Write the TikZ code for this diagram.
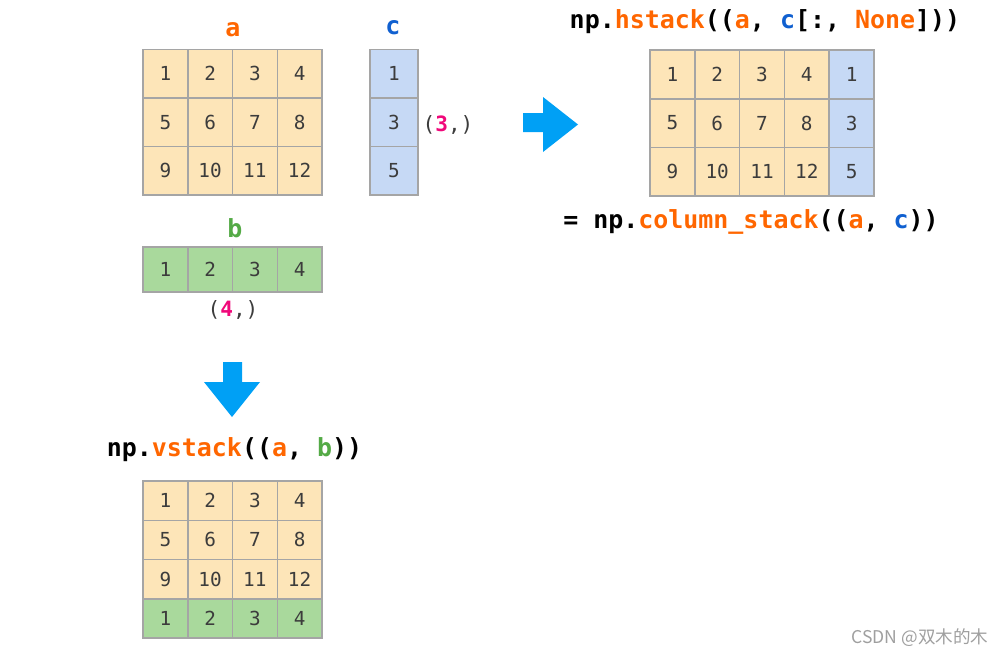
\documentclass[tikz,border=0pt]{standalone}
\usepackage{fontspec}
\setmainfont{DejaVu Sans}
\setmonofont{DejaVu Sans Mono}
\newfontfamily\cjkfont{Noto Sans CJK SC}
\usetikzlibrary{positioning, calc}
\definecolor{codeorange}{RGB}{255, 102, 0}
\definecolor{codeblue}{RGB}{16, 96, 208}
\definecolor{codegreen}{RGB}{84, 170, 70}
\definecolor{shapepink}{RGB}{240, 8, 122}
\definecolor{cellbeige}{RGB}{253, 229, 184}
\definecolor{cellblue}{RGB}{198, 217, 245}
\definecolor{cellgreen}{RGB}{169, 217, 156}
\definecolor{gridgray}{RGB}{165, 165, 165}
\definecolor{numgray}{RGB}{60, 60, 60}
\definecolor{arrowblue}{RGB}{0, 160, 245}

\begin{document}
\begin{tikzpicture}[
    x=0.02cm, y=-0.02cm,
    cell/.style={draw=gridgray, line width=0.85pt, inner sep=0pt,
                 minimum width=0.895cm, minimum height=0.97cm,
                 font=\ttfamily\fontsize{11}{13}\selectfont, text=numgray},
    acell/.style={cell, fill=cellbeige},
    ccell/.style={cell, fill=cellblue, minimum width=0.96cm},
    bcell/.style={cell, fill=cellgreen, minimum height=0.9cm},
    code/.style={font=\ttfamily\bfseries\fontsize{14.2}{16}\selectfont, inner sep=0pt},
    shapelbl/.style={font=\ttfamily\fontsize{12}{14}\selectfont, text=numgray, inner sep=0pt},
    bigarrow/.style={fill=arrowblue, draw=none}
]
\useasboundingbox (0,0) rectangle (1005,656);

% Input arrays
\foreach \i in {1,2,3} {
  \foreach \j in {1,...,4} {
    \pgfmathtruncatemacro\n{4*(\i-1)+\j}
    \node[acell] (a-\i-\j) at ({143+44.75*(\j-0.5)}, {49.5+48.5*(\i-0.5)}) {\n};
  }
  \pgfmathtruncatemacro\n{2*\i-1}
  \node[ccell] (c-\i) at (394, {49.5+48.5*(\i-0.5)}) {\n};
}
\foreach \j in {1,...,4}
  \node[bcell] (b-\j) at ({143+44.75*(\j-0.5)}, 269.5) {\j};

\node[code, text=codeorange] (alabel) at (233, 30) {a};
\node[code, text=codeblue] (clabel) at (393, 28) {c};
\node[code, text=codegreen] (blabel) at (235, 228) {b};
\node[shapelbl] (cshape) at (448, 125) {(\textcolor{shapepink}{\bfseries 3},)};
\node[shapelbl] (bshape) at (233, 310) {(\textcolor{shapepink}{\bfseries 4},)};

% hstack result
\node[code] (htitle) at (765, 22) {np.\textcolor{codeorange}{hstack}((\textcolor{codeorange}{a}, \textcolor{codeblue}{c}[:, \textcolor{codeorange}{None}]))};
\foreach \i in {1,2,3} {
  \foreach \j in {1,...,4} {
    \pgfmathtruncatemacro\n{4*(\i-1)+\j}
    \node[acell, minimum width=0.896cm] (h-\i-\j) at ({650+44.8*(\j-0.5)}, {50+48.67*(\i-0.5)}) {\n};
  }
  \pgfmathtruncatemacro\n{2*\i-1}
  \node[ccell, minimum width=0.896cm] (h-\i-5) at (851.6, {50+48.67*(\i-0.5)}) {\n};
}
\node[code] (ctitle) at (751, 222) {= np.\textcolor{codeorange}{column\_stack}((\textcolor{codeorange}{a}, \textcolor{codeblue}{c}))};

% vstack result
\node[code] (vtitle) at (234.5, 450) {np.\textcolor{codeorange}{vstack}((\textcolor{codeorange}{a}, \textcolor{codegreen}{b}))};
\foreach \i in {1,2,3,4} {
  \foreach \j in {1,...,4} {
    \ifnum\i<4
      \pgfmathtruncatemacro\n{4*(\i-1)+\j}
      \node[acell, minimum height=0.785cm] (v-\i-\j) at ({143+44.75*(\j-0.5)}, {481+39.25*(\i-0.5)}) {\n};
    \else
      \node[bcell, minimum height=0.785cm] (v-\i-\j) at ({143+44.75*(\j-0.5)}, {481+39.25*(\i-0.5)}) {\j};
    \fi
  }
}

% Block arrows
\fill[bigarrow] (523,113) -- (543,113) -- (543,97) -- (578,124.5) -- (543,152) -- (543,132) -- (523,132) -- cycle;
\fill[bigarrow] (223,362) -- (242,362) -- (242,382) -- (260,382) -- (232,417) -- (204,382) -- (223,382) -- cycle;

\node[font=\cjkfont\fontsize{10}{12}\selectfont, text=gray!75, inner sep=0pt] (mark) at (920, 638) {CSDN @双木的木};

\end{tikzpicture}
\end{document}
